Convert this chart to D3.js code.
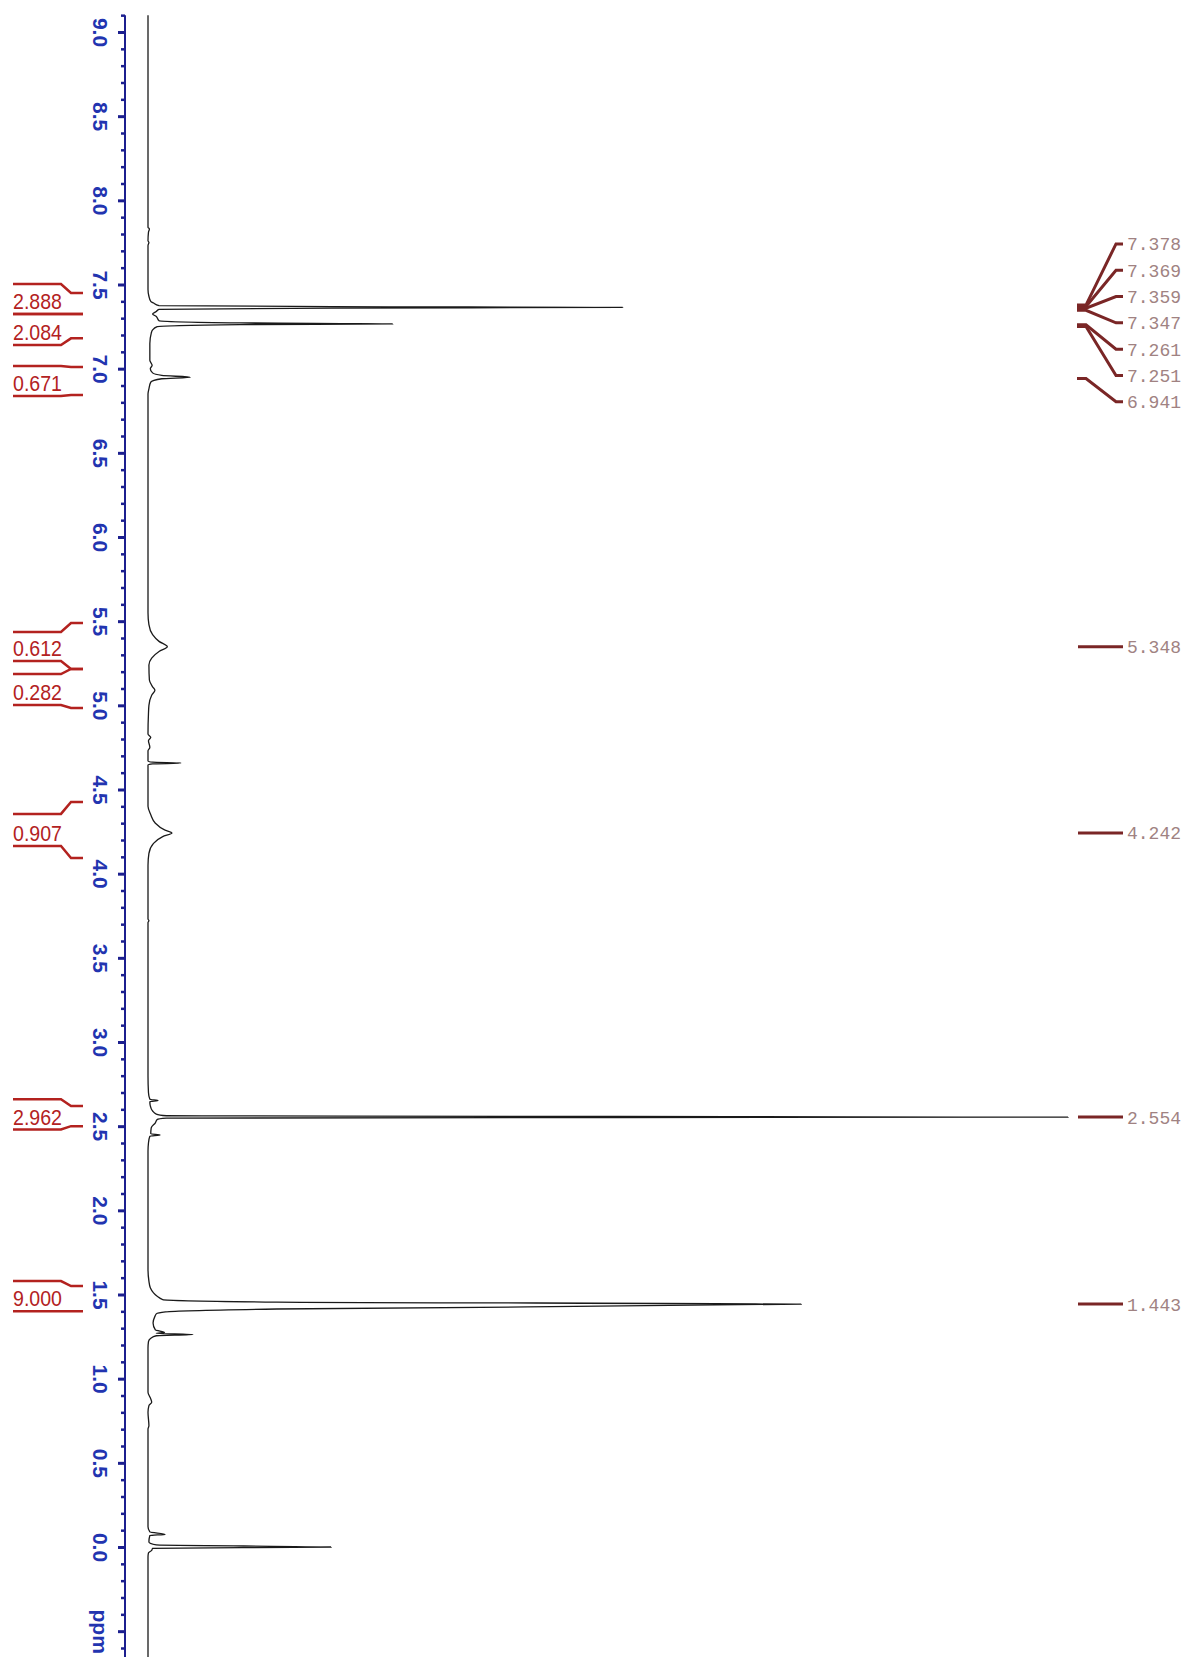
<!DOCTYPE html>
<html>
<head>
<meta charset="utf-8">
<script src="https://cdn.jsdelivr.net/npm/d3@7"></script>
<style>
  body { margin: 0; background: #fff; }
  svg { display: block; }
</style>
</head>
<body>
<script>
// 1H NMR trace: [ppm, intensity], 100 = tallest line (2.554)
var trace = [
  [9.10, 0], [7.84, 0], [7.83, 0.15], [7.81, 0.05], [7.76, 0], [7.75, 0.1], [7.73, 0],
  [7.47, 0], [7.43, 0.1], [7.40, 0.3], [7.39, 0.6], [7.375, 1.2], [7.368, 20], [7.364, 51.6],
  [7.36, 20], [7.352, 1.2], [7.34, 0.9], [7.325, 0.5], [7.31, 0.9], [7.285, 1.2],
  [7.272, 10], [7.266, 26.6], [7.262, 10], [7.25, 1.0], [7.23, 0.5], [7.21, 0.35],
  [7.15, 0.2], [7.05, 0.2], [7.02, 0.45], [7.0, 0.25], [6.975, 0.5], [6.96, 1.5],
  [6.949, 4.6], [6.94, 1.5], [6.92, 0.3], [6.88, 0.1], [6.85, 0],
  [5.55, 0], [5.48, 0.1], [5.42, 0.5], [5.38, 1.2], [5.348, 2.1], [5.32, 1.2], [5.28, 0.4],
  [5.24, 0.1], [5.15, 0.15], [5.11, 0.5], [5.09, 0.75], [5.06, 0.4], [5.0, 0.1], [4.95, 0.05],
  [4.83, 0], [4.81, 0.3], [4.79, 0.05], [4.75, 0.2], [4.73, 0], [4.67, 0], [4.662, 0.5],
  [4.657, 3.6], [4.652, 0.5], [4.645, 0], [4.40, 0], [4.35, 0.3], [4.30, 0.8], [4.26, 1.8],
  [4.242, 2.6], [4.22, 1.6], [4.18, 0.6], [4.12, 0.1], [4.05, 0],
  [3.73, 0], [3.72, 0.1], [3.71, 0],
  [2.80, 0], [2.70, 0.05], [2.66, 0.2], [2.652, 1.1], [2.645, 0.2], [2.62, 0.25], [2.59, 0.5],
  [2.572, 0.9], [2.562, 2], [2.554, 100], [2.548, 2], [2.54, 1.0], [2.52, 0.8], [2.49, 0.35],
  [2.455, 0.3], [2.448, 1.3], [2.44, 0.2], [2.40, 0.05], [2.35, 0],
  [1.65, 0], [1.58, 0.1], [1.54, 0.25], [1.51, 0.6], [1.49, 1.0], [1.47, 1.6], [1.455, 14],
  [1.443, 71], [1.414, 14], [1.397, 1.9], [1.385, 0.9], [1.37, 0.75], [1.33, 0.55], [1.29, 0.8],
  [1.275, 1.8], [1.27, 0.9], [1.262, 4.9], [1.255, 0.9], [1.24, 0.3], [1.22, 0.05], [1.18, 0],
  [0.92, 0], [0.88, 0.3], [0.86, 0.4], [0.84, 0.1], [0.80, 0], [0.72, 0.1], [0.70, 0],
  [0.12, 0], [0.09, 0.2], [0.075, 1.85], [0.068, 0.2], [0.03, 0.1], [0.012, 0.9],
  [0.0, 19.9], [-0.008, 0.5], [-0.02, 0.4], [-0.035, 0.05], [-0.06, 0], [-0.67, 0]
];

var majorTicks = [9.0, 8.5, 8.0, 7.5, 7.0, 6.5, 6.0, 5.5, 5.0, 4.5, 4.0, 3.5, 3.0, 2.5, 2.0, 1.5, 1.0, 0.5, 0.0, -0.5];
var tickLabels = ["9.0", "8.5", "8.0", "7.5", "7.0", "6.5", "6.0", "5.5", "5.0", "4.5", "4.0",
                  "3.5", "3.0", "2.5", "2.0", "1.5", "1.0", "0.5", "0.0", "ppm"];

// integrals: region on the axis side and where the bracket ends on the label side
var intLabels = ["2.888", "2.084", "0.671", "0.612", "0.282", "0.907", "2.962", "9.000"];
var intFrom = [7.45, 7.325, 7.01, 5.489, 5.216, 4.426, 2.62, 1.55];
var intTo = [7.325, 7.18, 6.843, 5.216, 4.984, 4.093, 2.50, 1.40];
var intFromOuter = [7.503, 7.325, 7.016, 5.436, 5.186, 4.355, 2.66, 1.58];
var intToOuter = [7.325, 7.14, 6.837, 5.263, 5.002, 4.164, 2.48, 1.40];

// peak picking labels
var peakPpm = [7.378, 7.369, 7.359, 7.347, 7.261, 7.251, 6.941, 5.348, 4.242, 2.554, 1.443];
var peakGroup = [0, 0, 0, 0, 0, 0, 0, 1, 2, 3, 4];

var W = 1188, H = 1657;
var svg = d3.select("body").append("svg").attr("width", W).attr("height", H);
svg.append("rect").attr("width", W).attr("height", H).attr("fill", "#fff");

var y = d3.scaleLinear().domain([9.0, 0.0]).range([32, 1547]);
var x = d3.scaleLinear().domain([0, 100]).range([148, 1068]);

// ppm axis
var axisX = 125;
var minorTicks = d3.range(91, -68, -1).map(function (d) { return d / 10; })
  .filter(function (d) { return Math.abs(d * 2 - Math.round(d * 2)) > 1e-6; });

var gMinor = svg.append("g").attr("transform", "translate(" + axisX + ",0)")
  .call(d3.axisLeft(y).tickValues(minorTicks).tickSize(4).tickSizeOuter(0).tickFormat(""));
gMinor.select(".domain").remove();
gMinor.selectAll("line").attr("stroke", "#1c1f8f").attr("stroke-width", 2.5);

var gMajor = svg.append("g").attr("transform", "translate(" + axisX + ",0)")
  .call(d3.axisLeft(y).tickValues(majorTicks).tickSize(7).tickSizeOuter(0)
    .tickFormat(function (d, i) { return tickLabels[i]; }));
gMajor.select(".domain").remove();
gMajor.selectAll("line").attr("stroke", "#1c1f8f").attr("stroke-width", 3);
gMajor.selectAll("text")
  .attr("x", 0).attr("dy", "0.36em")
  .attr("text-anchor", "middle")
  .attr("transform", "translate(-24,0) rotate(90)")
  .attr("fill", "#2234b0")
  .style("font-family", "'Liberation Sans', Arial, sans-serif")
  .style("font-weight", "bold")
  .style("font-size", "21px");

svg.append("line")
  .attr("x1", axisX).attr("x2", axisX)
  .attr("y1", y(9.1)).attr("y2", H)
  .attr("stroke", "#1c1f8f").attr("stroke-width", 2);

// spectrum
var line = d3.line()
  .x(function (d) { return x(d[1]); })
  .y(function (d) { return y(d[0]); })
  .curve(d3.curveMonotoneY);

svg.append("path")
  .datum(trace)
  .attr("d", line)
  .attr("fill", "none")
  .attr("stroke", "#1a1a1a")
  .attr("stroke-width", 1.3);

// integrals
var red = "#b3221f";
var gi = svg.append("g");
intLabels.forEach(function (lab, i) {
  var pts = [
    [[13, y(intFromOuter[i])], [61, y(intFromOuter[i])], [71, y(intFrom[i])], [83, y(intFrom[i])]],
    [[13, y(intToOuter[i])], [61, y(intToOuter[i])], [71, y(intTo[i])], [83, y(intTo[i])]]
  ];
  pts.forEach(function (p) {
    gi.append("path")
      .attr("d", d3.line()(p))
      .attr("fill", "none")
      .attr("stroke", red)
      .attr("stroke-width", 2.5);
  });
  gi.append("text")
    .attr("x", 13)
    .attr("y", y(intToOuter[i]) - 5)
    .attr("fill", red)
    .attr("textLength", 49)
    .attr("lengthAdjust", "spacingAndGlyphs")
    .style("font-family", "'Liberation Sans', Arial, sans-serif")
    .style("font-size", "22px")
    .text(lab);
});

// peak labels, stacked per group around the group's mean position
var gp = svg.append("g");
var step = 26.3;
var groups = d3.group(peakPpm.map(function (p, i) { return { ppm: p, g: peakGroup[i] }; }),
  function (d) { return d.g; });
groups.forEach(function (items) {
  var mid = d3.mean(items, function (d) { return y(d.ppm); });
  items.forEach(function (d, k) {
    var ly = mid + (k - (items.length - 1) / 2) * step;
    var py = y(d.ppm);
    var p = items.length > 1
      ? [[1077, py], [1086, py], [1116, ly], [1123, ly]]
      : [[1078, py], [1123, py]];
    gp.append("path")
      .attr("d", d3.line()(p))
      .attr("fill", "none")
      .attr("stroke", "#7a2626")
      .attr("stroke-width", 3);
    gp.append("text")
      .attr("x", 1127)
      .attr("y", ly)
      .attr("dy", "0.36em")
      .attr("fill", "#a08282")
      .style("font-family", "'Liberation Mono', 'DejaVu Sans Mono', monospace")
      .style("font-size", "18px")
      .text(d3.format(".3f")(d.ppm));
  });
});
</script>
</body>
</html>
